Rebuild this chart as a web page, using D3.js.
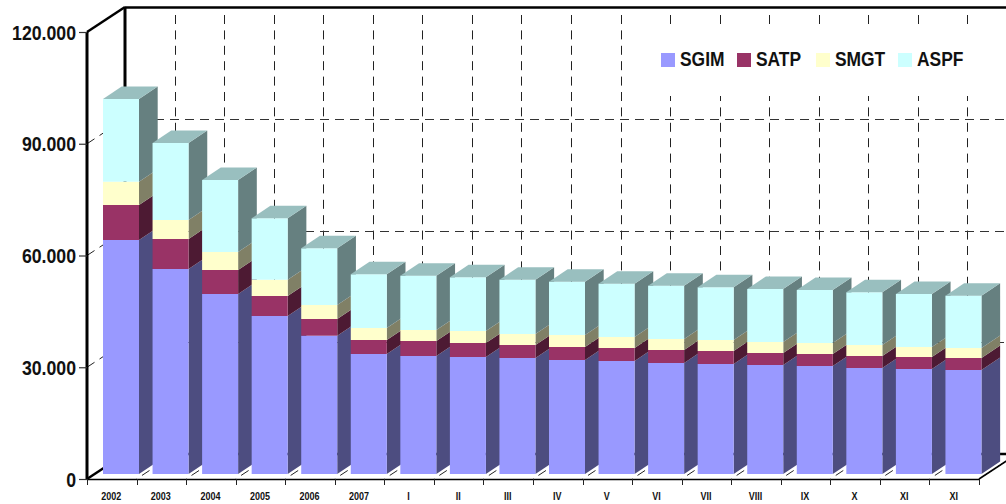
<!DOCTYPE html>
<html><head><meta charset="utf-8">
<script src="https://cdn.jsdelivr.net/npm/d3@7/dist/d3.min.js"></script>
<style>html,body{margin:0;padding:0;background:#fff;overflow:hidden}svg{display:block}
text{font-family:"Liberation Sans",Arial,sans-serif;fill:#111}</style>
</head><body><svg id="c" width="1006" height="504"></svg>
<script>
const categories=["2002","2003","2004","2005","2006","2007","I","II","III","IV","V","VI","VII","VIII","IX","X","XI","XI"];
const SGIM=[62819,55033,48322,42416,37127,32215,31678,31409,31141,30604,30336,29799,29530,29262,28993,28456,28188,27919];
const SATP=[9396,8054,6443,5369,4483,3758,4027,3758,3490,3490,3490,3490,3490,3221,3221,3221,3221,3221];
const SMGT=[6255,5101,4832,4376,3758,3221,2953,3221,2953,3221,2953,2953,2953,2953,2953,2953,2685,2685];
const ASPF=[22201,20671,19329,16483,15221,14416,14577,14416,14577,14309,14309,14309,14148,14228,14228,14148,14228,14040];
const seriesNames=["SGIM","SATP","SMGT","ASPF"];
const seriesValues=[SGIM,SATP,SMGT,ASPF];
const frontColors=["#9999ff","#993366","#ffffcc","#ccffff"];
const sideColors=["#4d4d80","#4d1a33","#808066","#668080"];
const topColor="#99bfbf";
const yTicks=[0,30000,60000,90000,120000];
const legendX=[661,737,816,898];

const svg=d3.select("#c");
const x=d3.scaleBand().domain(categories.map((d,i)=>i)).range([87,979]);
const y=d3.scaleLinear().domain([0,120000]).range([479,32]);
const wallDx=38,wallDy=-25;       // depth of the chart box
const barDx=18.7,barDy=-12.5;     // depth of one bar
const barOffX=16,barW=36,barLift=-5;
const fmt=d3.formatLocale({decimal:",",thousands:".",grouping:[3],currency:["",""]}).format(",d");
const line=(a,b,c,d,w,dash,col)=>svg.append("line").attr("x1",a).attr("y1",b).attr("x2",c).attr("y2",d)
  .attr("stroke",col||"#000").attr("stroke-width",w).attr("stroke-dasharray",dash||null);

// dashed grid on back wall
const gridDash="9 6.4";
const edges=categories.map((d,i)=>x(i)).concat([x.range()[1]]);
edges.slice(1).forEach(e=>{
  const gx=Math.round(e+wallDx)+.5;
  line(gx,15,gx,454,1,gridDash,"#222");
  // floor line, back to front
  line(e+wallDx,454,e,479,1,"9 6","#222");
});
yTicks.slice(1,-1).forEach(t=>{
  const gy=Math.round(y(t)+wallDy)+.5;
  line(87+wallDx,gy,1006,gy,1,"9 6","#333");
  line(87,y(t),87+wallDx,y(t)+wallDy,1,"9 6","#222");
});
// legend backing
svg.append("rect").attr("x",650).attr("y",24).attr("width",356).attr("height",72).attr("fill","#fff");

// box frame
line(87+wallDx,y(120000)+wallDy+.5,1006,y(120000)+wallDy+.5,2.5);
line(87+wallDx,y(120000)+wallDy,87+wallDx,454,3);
line(87,y(120000),87+wallDx,y(120000)+wallDy,2.5);
line(87,479,87+wallDx,454,2.5);
line(87+wallDx,454,1017,454,2.5);
line(979,479,1017,454,1.5);

// bars
const stacked=d3.stack().keys(seriesNames.map((d,i)=>i)).value((d,k)=>seriesValues[k][d])(categories.map((d,i)=>i));
const h=v=>y(v)+barLift;
const poly=pts=>pts.map(p=>p.join(",")).join(" ");
categories.forEach((c,i)=>{
  const g=svg.append("g");
  const x0=x(i)+barOffX,x1=x0+barW;
  stacked.forEach((s,k)=>{
    const v0=s[i][0],v1=s[i][1];
    g.append("polygon").attr("points",poly([[x1,h(v0)],[x1+barDx,h(v0)+barDy],[x1+barDx,h(v1)+barDy],[x1,h(v1)]])).attr("fill",sideColors[k]);
  });
  stacked.forEach((s,k)=>{
    const v0=s[i][0],v1=s[i][1];
    g.append("rect").attr("x",x0).attr("y",h(v1)).attr("width",barW).attr("height",h(v0)-h(v1)).attr("fill",frontColors[k]);
  });
  const vt=stacked[stacked.length-1][i][1];
  g.append("polygon").attr("points",poly([[x0,h(vt)],[x1,h(vt)],[x1+barDx,h(vt)+barDy],[x0+barDx,h(vt)+barDy]])).attr("fill",topColor);
});

// front axes
line(87,y(120000),87,479,3);
line(87,479.5,979,479.5,1.5);
edges.forEach(e=>line(Math.round(e)+.5,479,Math.round(e)+.5,485,1,null,"#222"));
yTicks.forEach(t=>line(79,y(t)+.5,87,y(t)+.5,1.2,null,"#333"));

svg.selectAll("text.yl").data(yTicks).join("text").attr("class","yl")
  .attr("transform",d=>`translate(76,${y(d)+7.5}) scale(.885,1)`).attr("text-anchor","end")
  .attr("font-size",20).attr("font-weight","bold").text(d=>fmt(d));
svg.selectAll("text.xl").data(categories).join("text").attr("class","xl")
  .attr("transform",(d,i)=>`translate(${x(i)+x.bandwidth()/2-.5},500) scale(.9,1)`).attr("text-anchor","middle")
  .attr("font-size",10).attr("font-weight","bold").text(d=>d);

// legend
seriesNames.forEach((n,i)=>{
  svg.append("rect").attr("x",legendX[i]).attr("y",53).attr("width",14).attr("height",14).attr("fill",frontColors[i]);
  svg.append("text").attr("transform",`translate(${legendX[i]+19},66) scale(.87,1)`).attr("font-size",20).attr("font-weight","bold").text(n);
});
</script></body></html>
